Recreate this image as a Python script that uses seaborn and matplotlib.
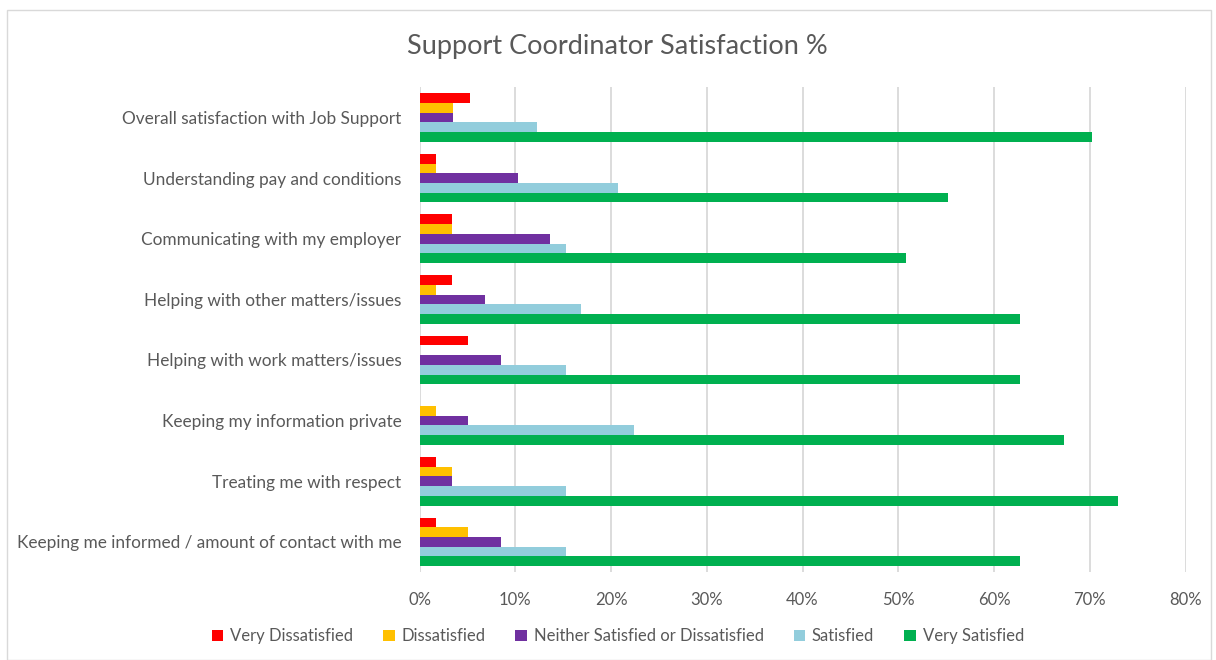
import pandas as pd
import matplotlib.pyplot as plt
import seaborn as sns

categories = [
    "Overall satisfaction with Job Support",
    "Understanding pay and conditions",
    "Communicating with my employer",
    "Helping with other matters/issues",
    "Helping with work matters/issues",
    "Keeping my information private",
    "Treating me with respect",
    "Keeping me informed / amount of contact with me",
]
levels = ["Very Dissatisfied", "Dissatisfied", "Neither Satisfied or Dissatisfied",
          "Satisfied", "Very Satisfied"]
very_dissatisfied = [5.3, 1.7, 3.4, 3.4, 5.1, 0.0, 1.7, 1.7]
dissatisfied = [3.5, 1.7, 3.4, 1.7, 0.0, 1.7, 3.4, 5.1]
neither = [3.5, 10.3, 13.6, 6.8, 8.5, 5.1, 3.4, 8.5]
satisfied = [12.3, 20.7, 15.3, 16.9, 15.3, 22.4, 15.3, 15.3]
very_satisfied = [70.2, 55.2, 50.8, 62.7, 62.7, 67.3, 72.9, 62.7]
colors = ["#FF0000", "#FFC000", "#7030A0", "#92CDDC", "#00B050"]

series = [very_dissatisfied, dissatisfied, neither, satisfied, very_satisfied]
rows = []
for lvl, vals in zip(levels, series):
    for cat, v in zip(categories, vals):
        rows.append({"question": cat, "level": lvl, "pct": v})
df = pd.DataFrame(rows)

sns.set_style("white")
plt.rcParams["font.family"] = ["Lato", "DejaVu Sans"]
grey = "#595959"

fig = plt.figure(figsize=(12.16, 6.6), dpi=100)
ax = fig.add_axes([0.345, 0.133, 0.630, 0.735])
sns.barplot(data=df, y="question", x="pct", hue="level", order=categories,
            hue_order=levels, palette=colors, orient="h", width=0.8,
            saturation=1, gap=0, linewidth=0, ax=ax, legend=True)

ax.set_xlim(0, 80)
ax.set_xticks(range(0, 81, 10))
ax.set_xticklabels([f"{t}%" for t in range(0, 81, 10)])
ax.set_xlabel("")
ax.set_ylabel("")
ax.grid(axis="x", color="#D9D9D9", linewidth=1.3)
ax.set_axisbelow(True)
for s in ax.spines.values():
    s.set_visible(False)
ax.tick_params(axis="x", colors=grey, labelsize=12, length=0, pad=14)
ax.tick_params(axis="y", colors=grey, labelsize=12.4, length=0, pad=13)

handles, labels = ax.get_legend_handles_labels()
ax.get_legend().remove()
fig.legend(handles, labels, loc="center", bbox_to_anchor=(0.508, 0.036), ncol=5,
           frameon=False, fontsize=12, labelcolor=grey, handlelength=0.7,
           handleheight=0.7, handletextpad=0.4, columnspacing=1.8)

fig.suptitle("Support Coordinator Satisfaction %", x=0.508, y=0.948,
             fontsize=19.5, color=grey)

fig.patches.append(plt.Rectangle((0.006, 0.0), 0.99, 0.985, transform=fig.transFigure,
                                 fill=False, edgecolor="#D9D9D9", linewidth=1))

fig.savefig("out.png", dpi=100)
